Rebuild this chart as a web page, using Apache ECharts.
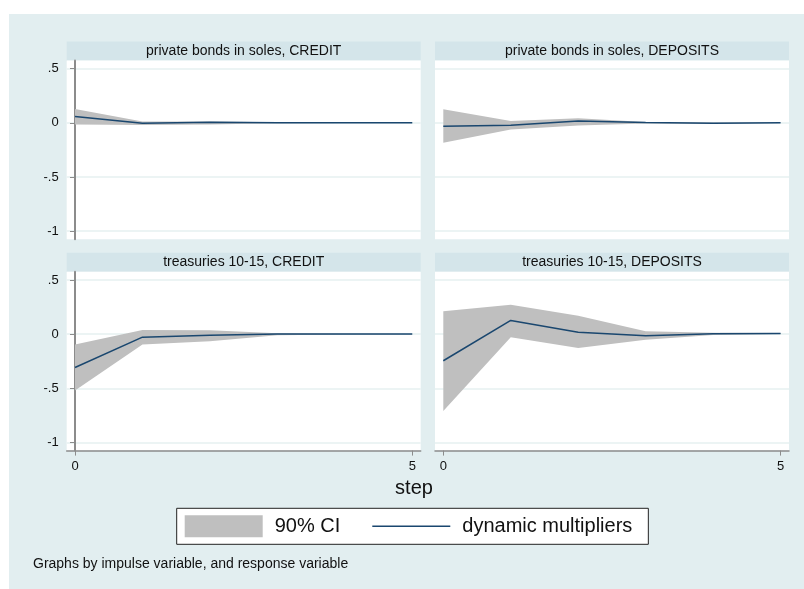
<!DOCTYPE html>
<html>
<head>
<meta charset="utf-8">
<script src="https://cdn.jsdelivr.net/npm/echarts@6/dist/echarts.min.js"></script>
<style>
  html, body { margin: 0; padding: 0; background: #ffffff; }
  #chart { width: 804px; height: 589px; }
</style>
</head>
<body>
<div id="chart"></div>
<script>
// Forecast horizon (steps)
const steps = [0, 1, 2, 3, 4, 5];
const yTicks = [-1, -0.5, 0, 0.5];
const xTicks = [0, 5];

const panelTitles = [
  'private bonds in soles, CREDIT',
  'private bonds in soles, DEPOSITS',
  'treasuries 10-15, CREDIT',
  'treasuries 10-15, DEPOSITS'
];

// Dynamic multipliers and 90% confidence bounds, one set per panel
const dmPrivCredit = [0.059, -0.003, 0.006, 0.000, 0.000, 0.000];
const loPrivCredit = [-0.015, -0.021, -0.015, -0.005, -0.002, -0.001];
const hiPrivCredit = [0.127, 0.013, 0.012, 0.005, 0.002, 0.001];

const dmPrivDeposits = [-0.031, -0.022, 0.016, 0.004, -0.005, 0.000];
const loPrivDeposits = [-0.185, -0.062, -0.024, -0.007, -0.008, -0.002];
const hiPrivDeposits = [0.124, 0.016, 0.043, 0.008, 0.003, 0.002];

const dmTreasCredit = [-0.308, -0.028, -0.010, 0.000, 0.000, 0.000];
const loTreasCredit = [-0.520, -0.096, -0.065, -0.010, -0.003, -0.001];
const hiTreasCredit = [-0.096, 0.037, 0.035, 0.008, 0.003, 0.001];

const dmTreasDeposits = [-0.246, 0.126, 0.018, -0.016, 0.003, 0.006];
const loTreasDeposits = [-0.710, -0.028, -0.129, -0.053, -0.008, 0.000];
const hiTreasDeposits = [0.212, 0.270, 0.169, 0.027, 0.012, 0.010];

const panels = [
  { dm: dmPrivCredit, lo: loPrivCredit, hi: hiPrivCredit },
  { dm: dmPrivDeposits, lo: loPrivDeposits, hi: hiPrivDeposits },
  { dm: dmTreasCredit, lo: loTreasCredit, hi: hiTreasCredit },
  { dm: dmTreasDeposits, lo: loTreasDeposits, hi: hiTreasDeposits }
];

// Styling
const FONT = '"Liberation Sans", Arial, sans-serif';
const BG = '#e2eef0';
const BAND = '#d4e5ea';
const GRIDLINE = '#e6f0f1';
const AXIS = '#8c8c8c';
const CI_COLOR = '#bfbfbf';
const LINE_COLOR = '#1a476f';

// Panel geometry
const colLeft = [66.7, 435];
const rowTop = [60.5, 271.8];
const plotW = 354;
const plotH = 178.8;
const bandH = 19;

function fmtY(v) {
  if (v === 0) return '0';
  const s = String(v);
  return s.replace(/^(-?)0\./, '$1.');
}

const grids = [], xAxes = [], yAxes = [], series = [], graphics = [];

// outer light background region
graphics.push({
  type: 'rect', left: 9, top: 14, z: -10,
  shape: { width: 795, height: 575 },
  style: { fill: BG }
});

panels.forEach((p, i) => {
  const col = i % 2, row = Math.floor(i / 2);
  const isLeft = col === 0, isBottom = row === 1;
  grids.push({
    left: colLeft[col], top: rowTop[row], width: plotW, height: plotH,
    show: true, backgroundColor: '#ffffff', borderWidth: 0
  });
  xAxes.push({
    type: 'value', gridIndex: i, min: -0.123, max: 5.125,
    axisLine: { show: isBottom, onZero: false, lineStyle: { color: AXIS, width: 1.5 } },
    axisTick: { show: isBottom, customValues: xTicks, length: 5, lineStyle: { color: AXIS } },
    axisLabel: {
      show: isBottom, customValues: xTicks, margin: 9,
      fontFamily: FONT, fontSize: 13, color: '#111'
    },
    splitLine: { show: false }
  });
  yAxes.push({
    type: 'value', gridIndex: i, min: -1.075, max: 0.575,
    axisLine: { show: isLeft, lineStyle: { color: AXIS, width: 2 } },
    axisTick: { show: isLeft, customValues: yTicks, length: 5, lineStyle: { color: AXIS } },
    axisLabel: {
      show: isLeft, customValues: yTicks, margin: 8,
      fontFamily: FONT, fontSize: 13, color: '#111', formatter: fmtY
    },
    splitLine: { show: true, lineStyle: { color: GRIDLINE, width: 1.5 } }
  });

  // confidence band as a polygon through the axis scales
  series.push({
    type: 'custom', name: '90% CI', xAxisIndex: i, yAxisIndex: i, z: 2,
    data: steps.map((s, k) => [s, p.lo[k], p.hi[k]]),
    encode: { x: 0, y: [1, 2] },
    itemStyle: { color: CI_COLOR },
    silent: true,
    renderItem: (params, api) => {
      if (params.dataIndex !== 0) return;
      const pts = [];
      steps.forEach((s, k) => pts.push(api.coord([s, p.hi[k]])));
      for (let k = steps.length - 1; k >= 0; k--) pts.push(api.coord([steps[k], p.lo[k]]));
      return { type: 'polygon', shape: { points: pts }, style: { fill: CI_COLOR } };
    }
  });
  series.push({
    type: 'line', name: 'dynamic multipliers', xAxisIndex: i, yAxisIndex: i, z: 3,
    data: steps.map((s, k) => [s, p.dm[k]]),
    showSymbol: false, symbol: 'none', silent: true,
    lineStyle: { color: LINE_COLOR, width: 1.5 },
    itemStyle: { color: LINE_COLOR }
  });

  // panel subtitle strip
  graphics.push({
    type: 'rect', left: colLeft[col], top: rowTop[row] - bandH, z: -5,
    shape: { width: plotW, height: bandH },
    style: { fill: BAND }
  });
  graphics.push({
    type: 'text', z: 5,
    x: colLeft[col] + plotW / 2, y: rowTop[row] - bandH / 2,
    style: {
      text: panelTitles[i], fontFamily: FONT, fontSize: 14, fill: '#111',
      align: 'center', verticalAlign: 'middle'
    }
  });
});

// x-axis title and note
graphics.push({
  type: 'text', x: 414, y: 488, z: 5,
  style: { text: 'step', fontFamily: FONT, fontSize: 20, fill: '#111', align: 'center', verticalAlign: 'middle' }
});
graphics.push({
  type: 'text', x: 33, y: 564, z: 5,
  style: { text: 'Graphs by impulse variable, and response variable', fontFamily: FONT, fontSize: 14, fill: '#111', align: 'left', verticalAlign: 'middle' }
});

const chart = echarts.init(document.getElementById('chart'), null, { renderer: 'canvas' });
chart.setOption({
  animation: false,
  backgroundColor: '#ffffff',
  grid: grids,
  xAxis: xAxes,
  yAxis: yAxes,
  series: series,
  graphic: graphics,
  legend: {
    left: 176.7, top: 508.3,
    orient: 'horizontal',
    selectedMode: false,
    backgroundColor: '#ffffff',
    borderColor: '#222', borderWidth: 1,
    padding: [7, 16, 7, 8],
    itemGap: 32, itemWidth: 78, itemHeight: 22,
    textStyle: { fontFamily: FONT, fontSize: 20, color: '#111', padding: [0, 0, 0, 7] },
    data: [
      { name: '90% CI', icon: 'rect', itemStyle: { color: CI_COLOR } },
      { name: 'dynamic multipliers', icon: 'path://M0,0 L100,0 L100,2 L0,2 Z', itemStyle: { color: LINE_COLOR } }
    ]
  }
});
</script>
</body>
</html>
